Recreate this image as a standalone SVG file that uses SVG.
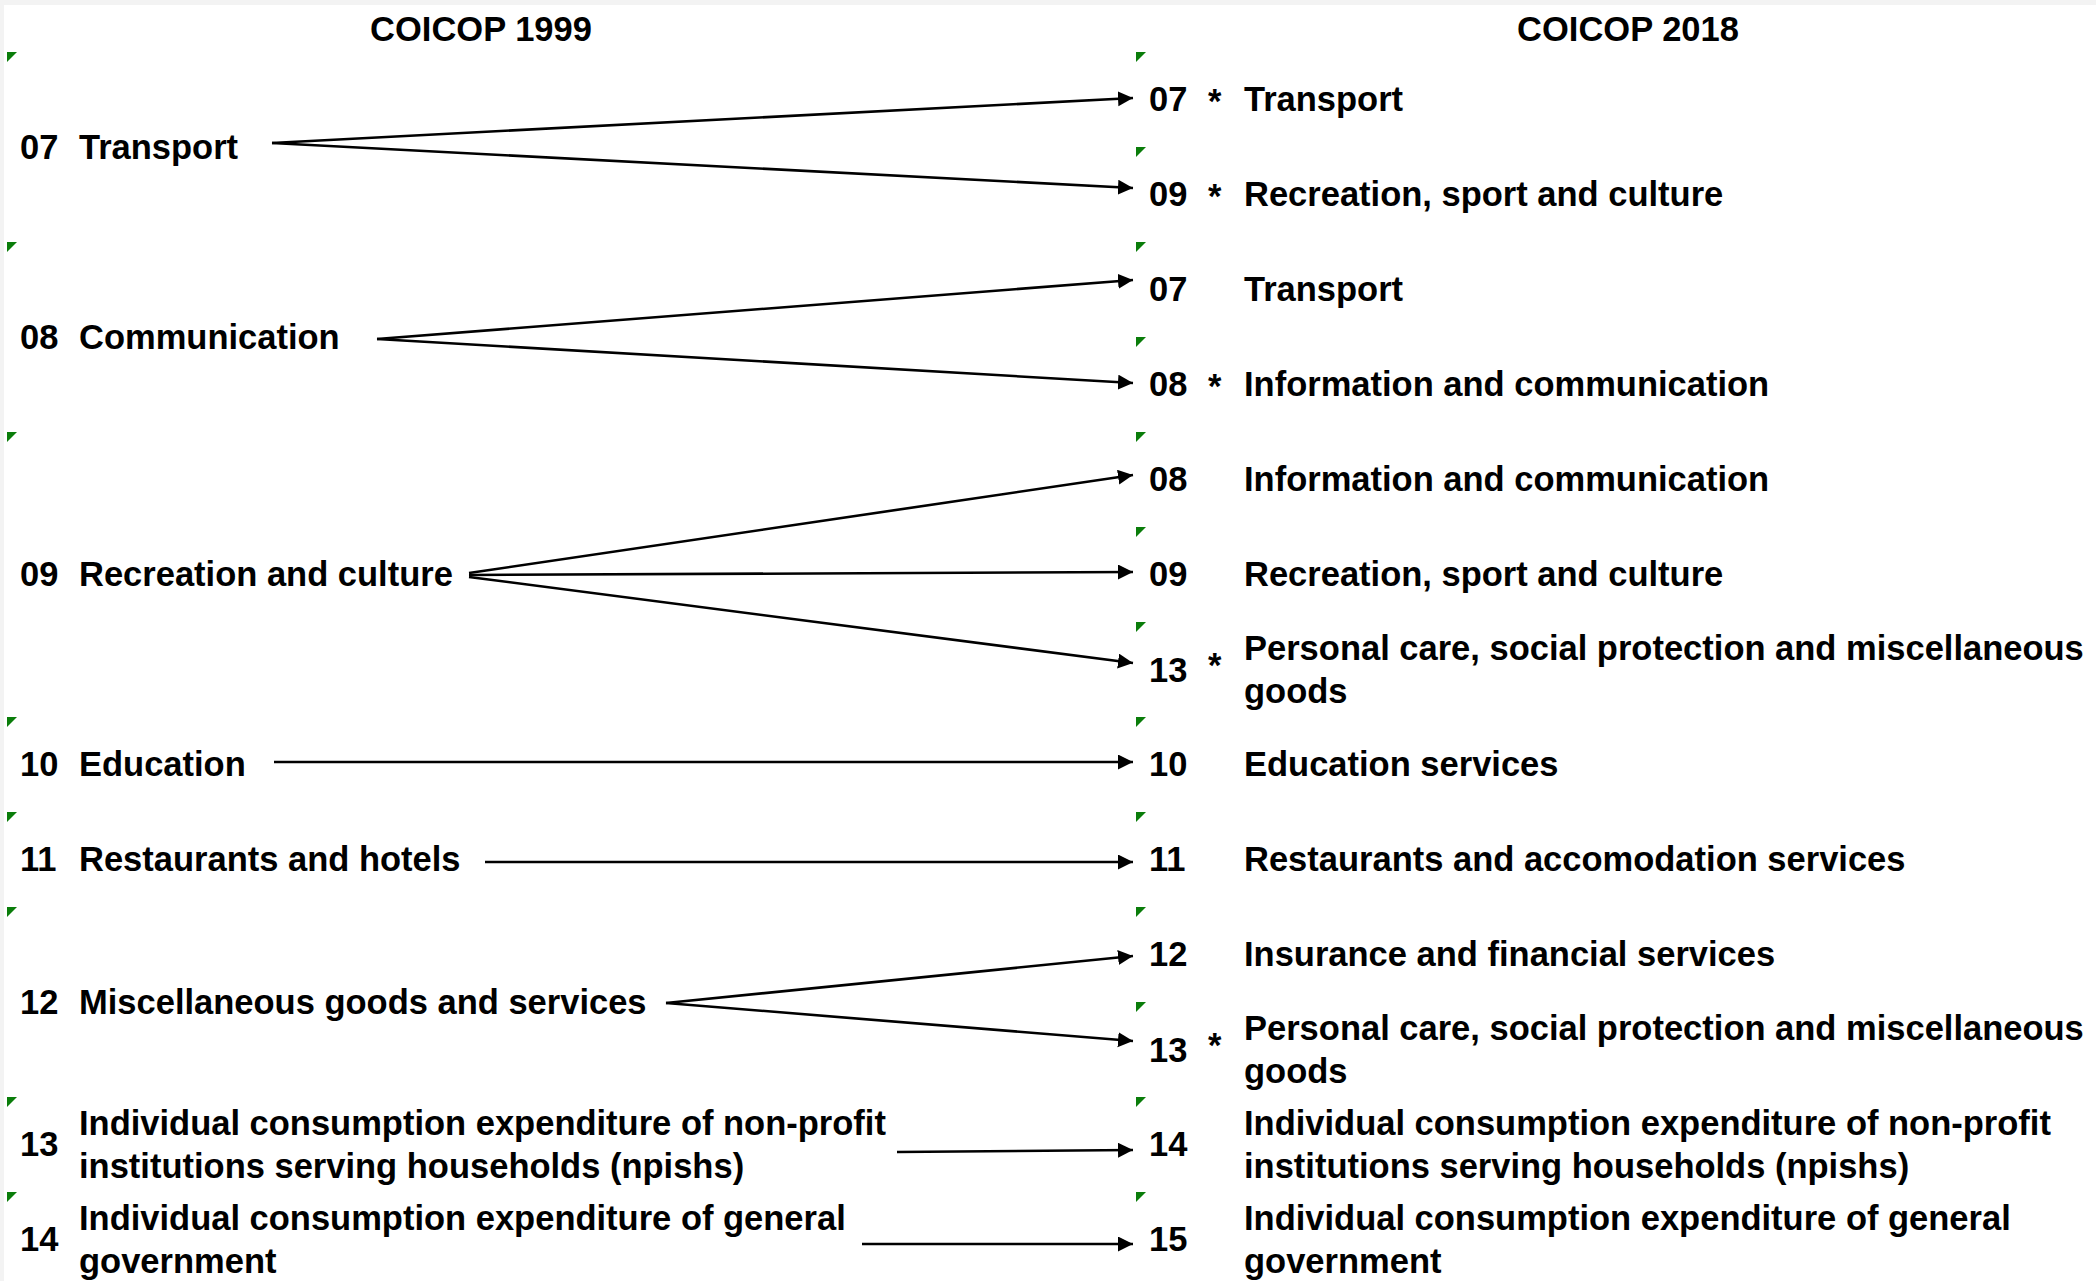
<svg xmlns="http://www.w3.org/2000/svg" width="2096" height="1281" viewBox="0 0 2096 1281">
<style>
text{font-family:"Liberation Sans",Arial,sans-serif;font-weight:bold;font-size:34.5px;fill:#000}
.hd{text-anchor:middle}
.mk{fill:#0a7d0a}
.cn{stroke:#000;stroke-width:2.6;fill:none;marker-end:url(#ah)}
</style>
<defs>
<marker id="ah" markerUnits="userSpaceOnUse" markerWidth="16" markerHeight="16" refX="15" refY="7.5" orient="auto"><path d="M0,0 L15,7.5 L0,15 z" fill="#000"/></marker>
<path id="tri" d="M0,0 L10,0 L0,10 z"/>
</defs>
<rect width="2096" height="1281" fill="#fff"/>
<rect width="2096" height="5" fill="#f3f3f3"/>
<rect width="4" height="1281" fill="#f3f3f3"/>
<g id="headers">
<text class="hd" x="481" y="41">COICOP 1999</text>
<text class="hd" x="1628" y="41">COICOP 2018</text>
</g>
<g id="markers">
<use href="#tri" class="mk" x="7" y="52"/>
<use href="#tri" class="mk" x="7" y="242"/>
<use href="#tri" class="mk" x="7" y="432"/>
<use href="#tri" class="mk" x="7" y="717"/>
<use href="#tri" class="mk" x="7" y="812"/>
<use href="#tri" class="mk" x="7" y="907"/>
<use href="#tri" class="mk" x="7" y="1097"/>
<use href="#tri" class="mk" x="7" y="1192"/>
<use href="#tri" class="mk" x="1136" y="52"/>
<use href="#tri" class="mk" x="1136" y="147"/>
<use href="#tri" class="mk" x="1136" y="242"/>
<use href="#tri" class="mk" x="1136" y="337"/>
<use href="#tri" class="mk" x="1136" y="432"/>
<use href="#tri" class="mk" x="1136" y="527"/>
<use href="#tri" class="mk" x="1136" y="622"/>
<use href="#tri" class="mk" x="1136" y="717"/>
<use href="#tri" class="mk" x="1136" y="812"/>
<use href="#tri" class="mk" x="1136" y="907"/>
<use href="#tri" class="mk" x="1136" y="1002"/>
<use href="#tri" class="mk" x="1136" y="1097"/>
<use href="#tri" class="mk" x="1136" y="1192"/>
</g>
<g id="connectors">
<line class="cn" x1="272" y1="143" x2="1133" y2="98"/>
<line class="cn" x1="272" y1="143" x2="1133" y2="188"/>
<line class="cn" x1="377" y1="339" x2="1133" y2="280"/>
<line class="cn" x1="377" y1="339" x2="1133" y2="383"/>
<line class="cn" x1="469" y1="573" x2="1133" y2="475"/>
<line class="cn" x1="469" y1="575" x2="1133" y2="572"/>
<line class="cn" x1="469" y1="577" x2="1133" y2="663"/>
<line class="cn" x1="274" y1="762" x2="1133" y2="762"/>
<line class="cn" x1="485" y1="862" x2="1133" y2="862"/>
<line class="cn" x1="666" y1="1003" x2="1133" y2="956"/>
<line class="cn" x1="666" y1="1003" x2="1133" y2="1041"/>
<line class="cn" x1="897" y1="1152" x2="1133" y2="1150"/>
<line class="cn" x1="862" y1="1244" x2="1133" y2="1244"/>
</g>
<g id="L07"><text x="20" y="159">07</text><text x="79" y="159">Transport</text></g>
<g id="L08"><text x="20" y="349">08</text><text x="79" y="349">Communication</text></g>
<g id="L09"><text x="20" y="586">09</text><text x="79" y="586">Recreation and culture</text></g>
<g id="L10"><text x="20" y="776">10</text><text x="79" y="776">Education</text></g>
<g id="L11"><text x="20" y="871">11</text><text x="79" y="871">Restaurants and hotels</text></g>
<g id="L12"><text x="20" y="1014">12</text><text x="79" y="1014">Miscellaneous goods and services</text></g>
<g id="L13"><text x="20" y="1156">13</text><text x="79" y="1134.5">Individual consumption expenditure of non-profit</text><text x="79" y="1177.5">institutions serving households (npishs)</text></g>
<g id="L14"><text x="20" y="1251">14</text><text x="79" y="1229.5">Individual consumption expenditure of general</text><text x="79" y="1272.5">government</text></g>
<g id="R07a"><text x="1149" y="111">07</text><text x="1208" y="113">*</text><text x="1244" y="111">Transport</text></g>
<g id="R09a"><text x="1149" y="206">09</text><text x="1208" y="208">*</text><text x="1244" y="206">Recreation, sport and culture</text></g>
<g id="R07b"><text x="1149" y="301">07</text><text x="1244" y="301">Transport</text></g>
<g id="R08a"><text x="1149" y="396">08</text><text x="1208" y="398">*</text><text x="1244" y="396">Information and communication</text></g>
<g id="R08b"><text x="1149" y="491">08</text><text x="1244" y="491">Information and communication</text></g>
<g id="R09b"><text x="1149" y="586">09</text><text x="1244" y="586">Recreation, sport and culture</text></g>
<g id="R13a"><text x="1149" y="681.5">13</text><text x="1208" y="677">*</text><text x="1244" y="660">Personal care, social protection and miscellaneous</text><text x="1244" y="703">goods</text></g>
<g id="R10"><text x="1149" y="776">10</text><text x="1244" y="776">Education services</text></g>
<g id="R11"><text x="1149" y="871">11</text><text x="1244" y="871">Restaurants and accomodation services</text></g>
<g id="R12"><text x="1149" y="966">12</text><text x="1244" y="966">Insurance and financial services</text></g>
<g id="R13b"><text x="1149" y="1061.5">13</text><text x="1208" y="1057">*</text><text x="1244" y="1040">Personal care, social protection and miscellaneous</text><text x="1244" y="1083">goods</text></g>
<g id="R14"><text x="1149" y="1156">14</text><text x="1244" y="1134.5">Individual consumption expenditure of non-profit</text><text x="1244" y="1177.5">institutions serving households (npishs)</text></g>
<g id="R15"><text x="1149" y="1251">15</text><text x="1244" y="1229.5">Individual consumption expenditure of general</text><text x="1244" y="1272.5">government</text></g>
</svg>
